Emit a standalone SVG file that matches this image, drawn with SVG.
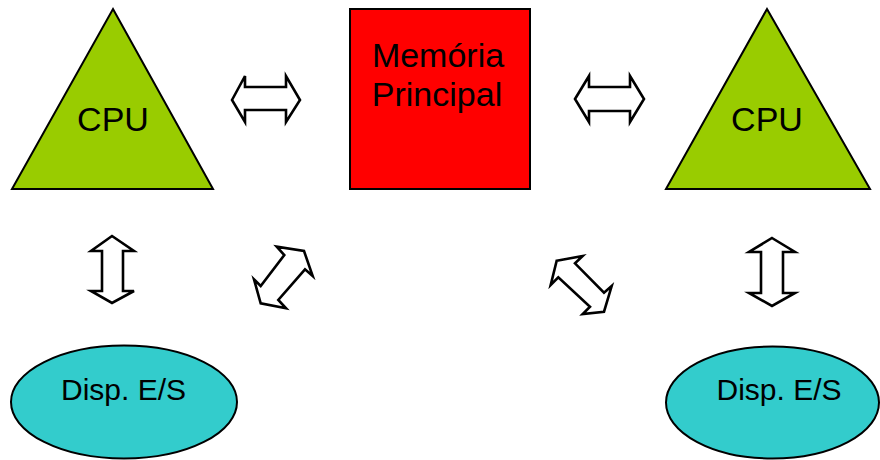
<svg xmlns="http://www.w3.org/2000/svg" width="880" height="460" viewBox="0 0 880 460">
  <style>
    .label { font-family: "Liberation Sans", Arial, sans-serif; fill: #000; text-anchor: middle; }
    .cpu { fill: #99CC00; stroke: #000; stroke-width: 2; }
    .mem { fill: #FF0000; stroke: #000; stroke-width: 2; }
    .io { fill: #33CCCC; stroke: #000; stroke-width: 2; }
    .link { fill: #FFFFFF; stroke: #000; stroke-width: 2.6; stroke-linejoin: miter; }
  </style>
  <rect width="880" height="460" fill="#FFFFFF"/>

  <g id="cpu-left">
    <polygon class="cpu" points="113,9 213,189 12,189"/>
    <text class="label" x="113" y="131" font-size="34">CPU</text>
  </g>

  <g id="memoria-principal">
    <rect class="mem" x="350" y="9" width="180" height="180"/>
    <text class="label" x="438" y="67" font-size="34">Memória</text>
    <text class="label" x="437" y="106" font-size="34">Principal</text>
  </g>

  <g id="cpu-right">
    <polygon class="cpu" points="767,9 870,189 666,189"/>
    <text class="label" x="767" y="131" font-size="34">CPU</text>
  </g>

  <g id="es-left">
    <ellipse class="io" cx="124" cy="402" rx="113" ry="56.5"/>
    <text class="label" x="123.5" y="400" font-size="30">Disp. E/S</text>
  </g>

  <g id="es-right">
    <ellipse class="io" cx="772.5" cy="402.5" rx="106.5" ry="56"/>
    <text class="label" x="779" y="400" font-size="30">Disp. E/S</text>
  </g>

  <g id="connectors">
    <!-- CPU (left) to memory -->
    <polygon class="link" points="232,100 245,76 245,87 286,87 286,76 300,100 286,122 286,110 245,110 245,122"/>
    <!-- memory to CPU (right) -->
    <polygon class="link" points="575,99 589,76 589,87 630,87 630,76 644,99 630,122 630,111 589,111 589,122"/>
    <!-- CPU (left) to I/O (left) -->
    <polygon class="link" points="112,236 134,251 123,251 123,291 134,291 112,303 91,291 102,291 102,251 91,251"/>
    <!-- CPU (right) to I/O (right) -->
    <polygon class="link" points="772,238 795,252 783,252 783,293 795,293 772,306 749,293 761,293 761,252 749,252"/>
    <!-- memory to I/O (left), diagonal -->
    <polygon class="link" points="304,251 312.7,276 305,269.3 278.3,300 286,308.3 260.7,303.3 254,279.3 260.7,286 284.3,255 276.7,246.7"/>
    <!-- memory to I/O (right), diagonal -->
    <polygon class="link" points="556.7,260.7 582.7,256 575,263.3 604,292.7 611.7,286 604,311.7 582.7,314 590,306.7 558.3,277.3 550.7,285"/>
  </g>
</svg>
